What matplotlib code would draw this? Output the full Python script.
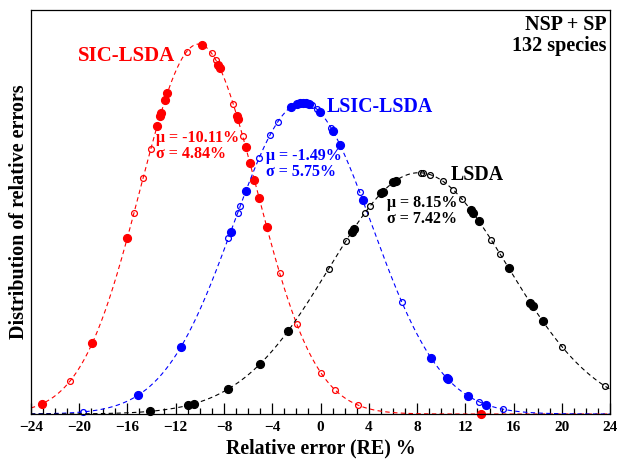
import numpy as np
import matplotlib
matplotlib.use("Agg")
import matplotlib.pyplot as plt

plt.rcParams['font.family'] = ['Liberation Serif', 'DejaVu Serif']
plt.rcParams['font.weight'] = 'bold'

# fitted normal distributions (mean, std) in %
fits = {
    "SIC-LSDA": (-10.11, 4.84),
    "LSIC-LSDA": (-1.49, 5.75),
    "LSDA": (8.15, 7.42),
}
colors = {"SIC-LSDA": "red", "LSIC-LSDA": "blue", "LSDA": "black"}

# relative errors of the individual species
sic_filled = [-23.11, -18.92, -16.02, -13.53, -13.30, -13.22, -12.89, -12.70, -9.85,
              -8.47, -8.33, -6.94, -6.86, -6.20, -5.84, -5.48, -5.09, -4.46, 13.26]
sic_open = [-20.77, -15.46, -14.69, -14.07, -11.09, -9.02, -8.66, -7.23, -6.45,
            -3.38, -1.97, 0.02, 1.21, 3.14]

lsic_filled = [-15.15, -11.59, -7.44, -6.20, -2.48, -1.92, -1.69, -1.42, -1.20, -0.95,
               -0.08, 1.02, 1.62, 3.50, 9.17, 10.47, 10.55, 12.18, 13.75]
lsic_open = [-19.71, -7.64, -6.86, -6.64, -5.09, -4.18, -3.54, -0.72, -0.31, 0.88,
             3.24, 6.74, 13.15, 15.08]

lsda_filled = [-14.13, -11.01, -10.46, -7.67, -5.01, -2.69, 2.59, 2.74, 5.02, 5.16,
               6.04, 6.24, 12.48, 12.62, 13.09, 15.58, 17.38, 17.57, 18.40]
lsda_open = [0.67, 2.12, 3.69, 4.11, 8.34, 8.53, 9.08, 10.14, 10.97, 11.71, 14.14,
             14.89, 20.01, 23.60]

points = {
    "SIC-LSDA": (sic_filled, sic_open),
    "LSIC-LSDA": (lsic_filled, lsic_open),
    "LSDA": (lsda_filled, lsda_open),
}


def gauss(x, mu, sd):
    x = np.asarray(x, dtype=float)
    return np.exp(-0.5 * ((x - mu) / sd) ** 2) / (sd * np.sqrt(2 * np.pi))


fig = plt.figure(figsize=(6.17, 4.59), dpi=100)
ax = fig.add_axes([0.050, 0.098, 0.939, 0.880])

xs = np.linspace(-24, 24, 600)
for name, (mu, sd) in fits.items():
    c = colors[name]
    ax.plot(xs, gauss(xs, mu, sd), color=c, lw=0.8, ls=(0, (4, 3)))
    filled, hollow = points[name]
    ax.plot(hollow, gauss(hollow, mu, sd), 'o', ms=4.2, mfc='none', mec=c,
            mew=0.9, ls='none', clip_on=False)
    ax.plot(filled, gauss(filled, mu, sd), 'o', ms=5.6, color=c, ls='none',
            clip_on=False)

ax.set_xlim(-24, 24)
ax.set_ylim(0, 0.09)
ax.set_xticks(np.arange(-24, 25, 4))
ax.set_xticks(np.arange(-24, 25, 1), minor=True)
ax.set_yticks([])
ax.tick_params(axis='x', which='major', direction='in', length=8, width=0.9,
               labelsize=11, pad=5)
ax.tick_params(axis='x', which='minor', direction='in', length=4, width=0.9)
for s in ax.spines.values():
    s.set_linewidth(0.9)

ax.set_xlabel("Relative error (RE) %", fontsize=14.3, fontweight='bold', labelpad=3)
ax.set_ylabel("Distribution of relative errors", fontsize=14.5, fontweight='bold',
              labelpad=1)

ax.text(-16.05, 0.0798, "SIC-LSDA", color='red', fontsize=15, ha='center', va='center')
ax.text(4.95, 0.0684, "LSIC-LSDA", color='blue', fontsize=14.3, ha='center', va='center')
ax.text(12.95, 0.0532, "LSDA", color='black', fontsize=14.3, ha='center', va='center')

ax.text(-13.6, 0.0598, "μ = -10.11%\nσ = 4.84%", color='red', fontsize=11.5,
        ha='left', va='center', linespacing=1.0)
ax.text(-4.55, 0.0557, "μ = -1.49%\nσ = 5.75%", color='blue', fontsize=11.5,
        ha='left', va='center', linespacing=1.0)
ax.text(5.5, 0.0453, "μ = 8.15%\nσ = 7.42%", color='black', fontsize=11.5,
        ha='left', va='center', linespacing=1.0)

ax.text(0.993, 0.988, "NSP + SP\n132 species", transform=ax.transAxes, fontsize=14.5,
        ha='right', va='top', linespacing=1.1, multialignment='right')

fig.savefig("out.png", dpi=100)
